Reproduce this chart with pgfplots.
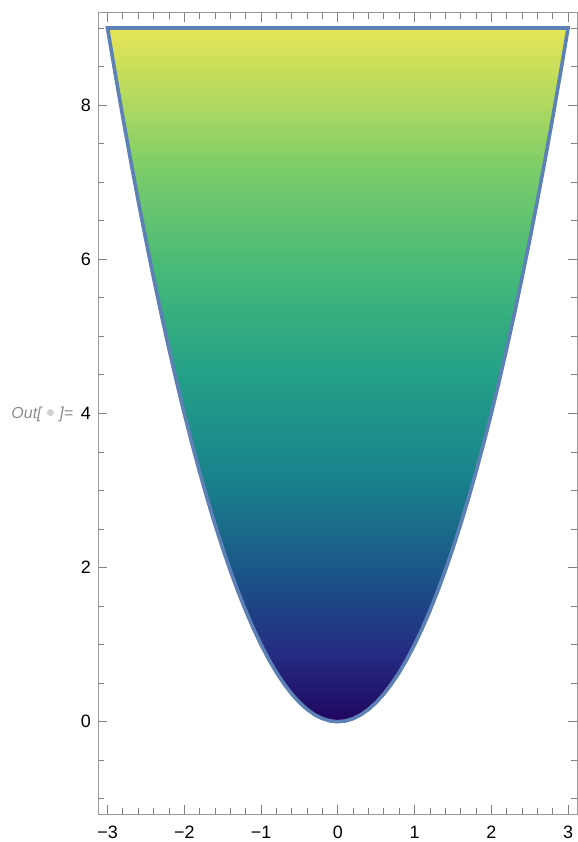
\documentclass[border=0pt]{standalone}
\usepackage{fontspec}
\setmainfont{Liberation Sans}
\newfontfamily\symfont{DejaVu Sans}
\usepackage{pgfplots}
\pgfplotsset{compat=1.18}

\definecolor{edge}{RGB}{94,129,181}
\definecolor{v0}{RGB}{32,5,95}
\definecolor{v1}{RGB}{36,45,130}
\definecolor{v2}{RGB}{27,80,136}
\definecolor{v3}{RGB}{25,130,140}
\definecolor{v4}{RGB}{35,160,135}
\definecolor{v5}{RGB}{70,185,120}
\definecolor{v6}{RGB}{125,205,105}
\definecolor{v7}{RGB}{180,218,95}
\definecolor{v8}{RGB}{230,228,85}

% 25bp..75bp of the shading covers the bounding box of the filled region (y = 0..9)
\pgfdeclareverticalshading{vir}{100bp}{
  color(0bp)=(v0); color(25bp)=(v0); color(30bp)=(v1); color(35bp)=(v2);
  color(42.5bp)=(v3); color(50bp)=(v4); color(57.5bp)=(v5); color(65bp)=(v6);
  color(70bp)=(v7); color(75bp)=(v8); color(100bp)=(v8)}

\begin{document}
\begin{tikzpicture}
\begin{axis}[
    name=ax,
    scale only axis,
    width=479bp, height=801.6bp,
    xmin=-3.12, xmax=3.12,
    ymin=-1.2, ymax=9.2,
    axis line style={black!40, line width=0.8bp},
    tick pos=both,
    tick align=inside,
    major tick length=9bp,
    minor tick length=6bp,
    every tick/.style={black!50, line width=0.8bp},
    xtick={-3,-2,-1,0,1,2,3},
    xticklabels={−3,−2,−1,0,1,2,3},
    minor xtick={-2.8,-2.6,-2.4,-2.2,-1.8,-1.6,-1.4,-1.2,-0.8,-0.6,-0.4,-0.2,
                 0.2,0.4,0.6,0.8,1.2,1.4,1.6,1.8,2.2,2.4,2.6,2.8},
    ytick={0,2,4,6,8},
    yticklabels={0,2,4,6,8},
    minor ytick={-1,-0.5,0.5,1,1.5,2.5,3,3.5,4.5,5,5.5,6.5,7,7.5,8.5,9},
    tick label style={font=\fontsize{18}{18}\selectfont, black},
    xticklabel style={yshift=-8bp},
    yticklabel style={xshift=-4bp},
    clip=false,
]

% region x^2 <= y <= 9, boundary sampled at x step 0.1
\addplot[draw=edge, line width=3.6bp, shade, shading=vir] coordinates {
    (-3.0,9) (-2.9,8.41) (-2.8,7.84) (-2.7,7.29) (-2.6,6.76) (-2.5,6.25)
    (-2.4,5.76) (-2.3,5.29) (-2.2,4.84) (-2.1,4.41) (-2.0,4) (-1.9,3.61)
    (-1.8,3.24) (-1.7,2.89) (-1.6,2.56) (-1.5,2.25) (-1.4,1.96) (-1.3,1.69)
    (-1.2,1.44) (-1.1,1.21) (-1.0,1) (-0.9,0.81) (-0.8,0.64) (-0.7,0.49)
    (-0.6,0.36) (-0.5,0.25) (-0.4,0.16) (-0.3,0.09) (-0.2,0.04) (-0.1,0.01)
    (0,0)
    (0.1,0.01) (0.2,0.04) (0.3,0.09) (0.4,0.16) (0.5,0.25) (0.6,0.36)
    (0.7,0.49) (0.8,0.64) (0.9,0.81) (1.0,1) (1.1,1.21) (1.2,1.44)
    (1.3,1.69) (1.4,1.96) (1.5,2.25) (1.6,2.56) (1.7,2.89) (1.8,3.24)
    (1.9,3.61) (2.0,4) (2.1,4.41) (2.2,4.84) (2.3,5.29) (2.4,5.76)
    (2.5,6.25) (2.6,6.76) (2.7,7.29) (2.8,7.84) (2.9,8.41) (3.0,9)
} -- cycle;

\end{axis}

\node[anchor=west, inner sep=0pt, text=black!45,
      font=\itshape\fontsize{16}{16}\selectfont]
  at ([shift={(-87bp,400bp)}]ax.south west)
  {Out[\hspace{5bp}\raisebox{3bp}{\textcolor{black!18}{\symfont\fontsize{9}{9}\selectfont ●}}\hspace{5bp}]=};

\pgfresetboundingbox
\path[use as bounding box] ([shift={(-98.3bp,-27.8bp)}]ax.south west)
  rectangle ([shift={(0.3bp,12.6bp)}]ax.north east);
\end{tikzpicture}
\end{document}
